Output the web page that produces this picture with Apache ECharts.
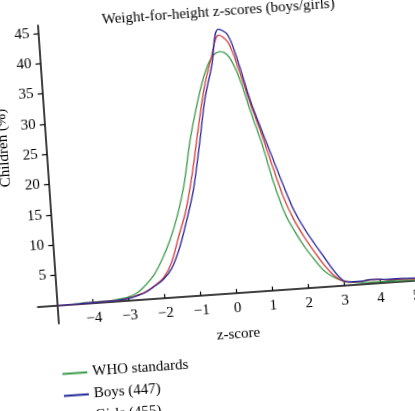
<!DOCTYPE html>
<html>
<head>
<meta charset="utf-8">
<script src="https://cdn.jsdelivr.net/npm/echarts@6/dist/echarts.min.js"></script>
<style>
  html, body { margin: 0; padding: 0; background: #fff; overflow: hidden; width: 415px; height: 411px; }
  /* the source figure is a slightly rotated scan, so the whole chart is turned a little */
  #main {
    position: absolute; left: 0; top: 0;
    width: 440px; height: 411px;
    transform-origin: 207.5px 205.5px;
    transform: rotate(-4deg);
  }
</style>
</head>
<body>
<div id="main"></div>
<script>
// z-score positions (x)
const zScores = [-5, -4.75, -4.5, -4.25, -4, -3.75, -3.5, -3.25, -3, -2.75, -2.5, -2.25, -2, -1.75, -1.5, -1.25,
  -1, -0.75, -0.5, -0.25, 0, 0.25, 0.5, 0.75, 1, 1.25, 1.5, 1.75, 2, 2.25, 2.5, 2.75,
  3, 3.25, 3.5, 3.75, 4, 4.25, 4.5, 4.75, 5]

// children (%)
const whoValues = [0, 0, 0.05, 0.1, 0.1, 0.15, 0.2, 0.35, 0.6, 1.2, 2.4, 4.0, 6.4, 9.4, 13.3, 18.4,
  25.5, 31.1, 35.8, 38.9, 39.9, 38.9, 35.2, 29.5, 24.1, 17.6, 12.5, 9.3, 6.6, 4.4, 2.5, 1.4,
  0.7, 0.4, 0.3, 0.25, 0.2, 0.2, 0.15, 0.15, 0.1]
const boysValues = [0, 0, 0, 0.05, 0.05, 0.1, 0.1, 0.2, 0.35, 0.7, 1.2, 2.1, 3.1, 4.8, 8.0, 12.4,
  17.4, 24.6, 32.3, 37.6, 43.6, 42.6, 37.8, 31.6, 26.7, 22.0, 17.3, 13.0, 9.9, 7.3, 4.9, 2.5,
  0.8, 0.5, 0.5, 0.7, 0.6, 0.5, 0.5, 0.45, 0.4]
const girlsValues = [0, 0, 0, 0.05, 0.05, 0.1, 0.1, 0.2, 0.4, 0.8, 1.3, 2.2, 3.3, 5.7, 9.9, 14.1,
  20.1, 27.3, 34.1, 38.9, 42.6, 41.3, 36.6, 31.0, 25.9, 20.3, 15.0, 11.2, 8.3, 5.8, 3.5, 1.7,
  0.7, 0.5, 0.5, 0.65, 0.55, 0.45, 0.4, 0.35, 0.3]

const seriesNames = ['WHO standards', 'Boys (447)', 'Girls (455)']
const seriesColors = ['#3a9a48', '#26269a', '#d83a3a']

const xTickValues = [-4, -3, -2, -1, 0, 1, 2, 3, 4, 5]
const yTickValues = [5, 10, 15, 20, 25, 30, 35, 40, 45]

const serif = '"Liberation Serif", "DejaVu Serif", serif'

const chart = echarts.init(document.getElementById('main'))

const makeSeries = (name, values, color) => ({
  name: name,
  type: 'line',
  symbol: 'none',
  smooth: 0.35,
  color: color,
  lineStyle: { width: 1.3, color: color },
  data: zScores.map((z, i) => [z, values[i]])
})

// grid box: x from -5.55 to 5.5, y from -3 to 46.3
const gridLeft = 31
const gridRight = 12
const gridTop = 14
const gridBottom = 98
const pxPerZ = (440 - gridLeft - gridRight) / 11.05
const pxPerPct = (411 - gridTop - gridBottom) / 49.3

const option = {
  backgroundColor: '#fff',
  animation: false,
  title: {
    text: 'Weight-for-height z-scores (boys/girls)',
    left: 110,
    top: 1,
    textStyle: { fontFamily: serif, fontSize: 15, fontWeight: 'normal', color: '#000' }
  },
  grid: { left: gridLeft, right: gridRight, top: gridTop, bottom: gridBottom },
  legend: {
    orient: 'vertical',
    left: 50,
    top: 356,
    height: 80,
    padding: 0,
    itemWidth: 25,
    itemHeight: 14,
    itemGap: 7,
    data: seriesNames,
    itemStyle: { opacity: 0 },
    textStyle: { fontFamily: serif, fontSize: 15, color: '#000' }
  },
  graphic: [{
    type: 'text',
    x: 8,
    y: 134,
    rotation: Math.PI / 2,
    style: {
      text: 'Children (%)',
      fill: '#000',
      font: '15px ' + serif,
      align: 'center',
      verticalAlign: 'middle'
    }
  }],
  xAxis: {
    type: 'value',
    min: -5.55,
    max: 5.5,
    position: 'bottom',
    offset: -3 * pxPerPct,   // sits on 0 %
    name: 'z-score',
    nameLocation: 'middle',
    nameGap: 34,
    nameTextStyle: { fontFamily: serif, fontSize: 15, color: '#000' },
    axisLine: { onZero: false, lineStyle: { color: '#000', width: 1.5 } },
    axisTick: { inside: true, length: 4, customValues: xTickValues, lineStyle: { color: '#000', width: 1.2 } },
    axisLabel: {
      customValues: xTickValues,
      margin: 8,
      fontFamily: serif,
      fontSize: 15,
      color: '#000',
      formatter: v => (v < 0 ? '\u2212' + Math.abs(v) : String(v))
    },
    splitLine: { show: false }
  },
  yAxis: {
    type: 'value',
    min: -3,
    max: 46.3,
    position: 'left',
    offset: -0.55 * pxPerZ,  // sits on z = -5
    axisLine: { onZero: false, lineStyle: { color: '#000', width: 1.5 } },
    axisTick: { length: 5, customValues: yTickValues, lineStyle: { color: '#000', width: 1.2 } },
    axisLabel: {
      customValues: yTickValues,
      margin: 9,
      fontFamily: serif,
      fontSize: 15,
      color: '#000'
    },
    splitLine: { show: false }
  },
  series: [
    makeSeries(seriesNames[0], whoValues, seriesColors[0]),
    makeSeries(seriesNames[2], girlsValues, seriesColors[2]),
    makeSeries(seriesNames[1], boysValues, seriesColors[1])
  ]
}

chart.setOption(option)
</script>
</body>
</html>
